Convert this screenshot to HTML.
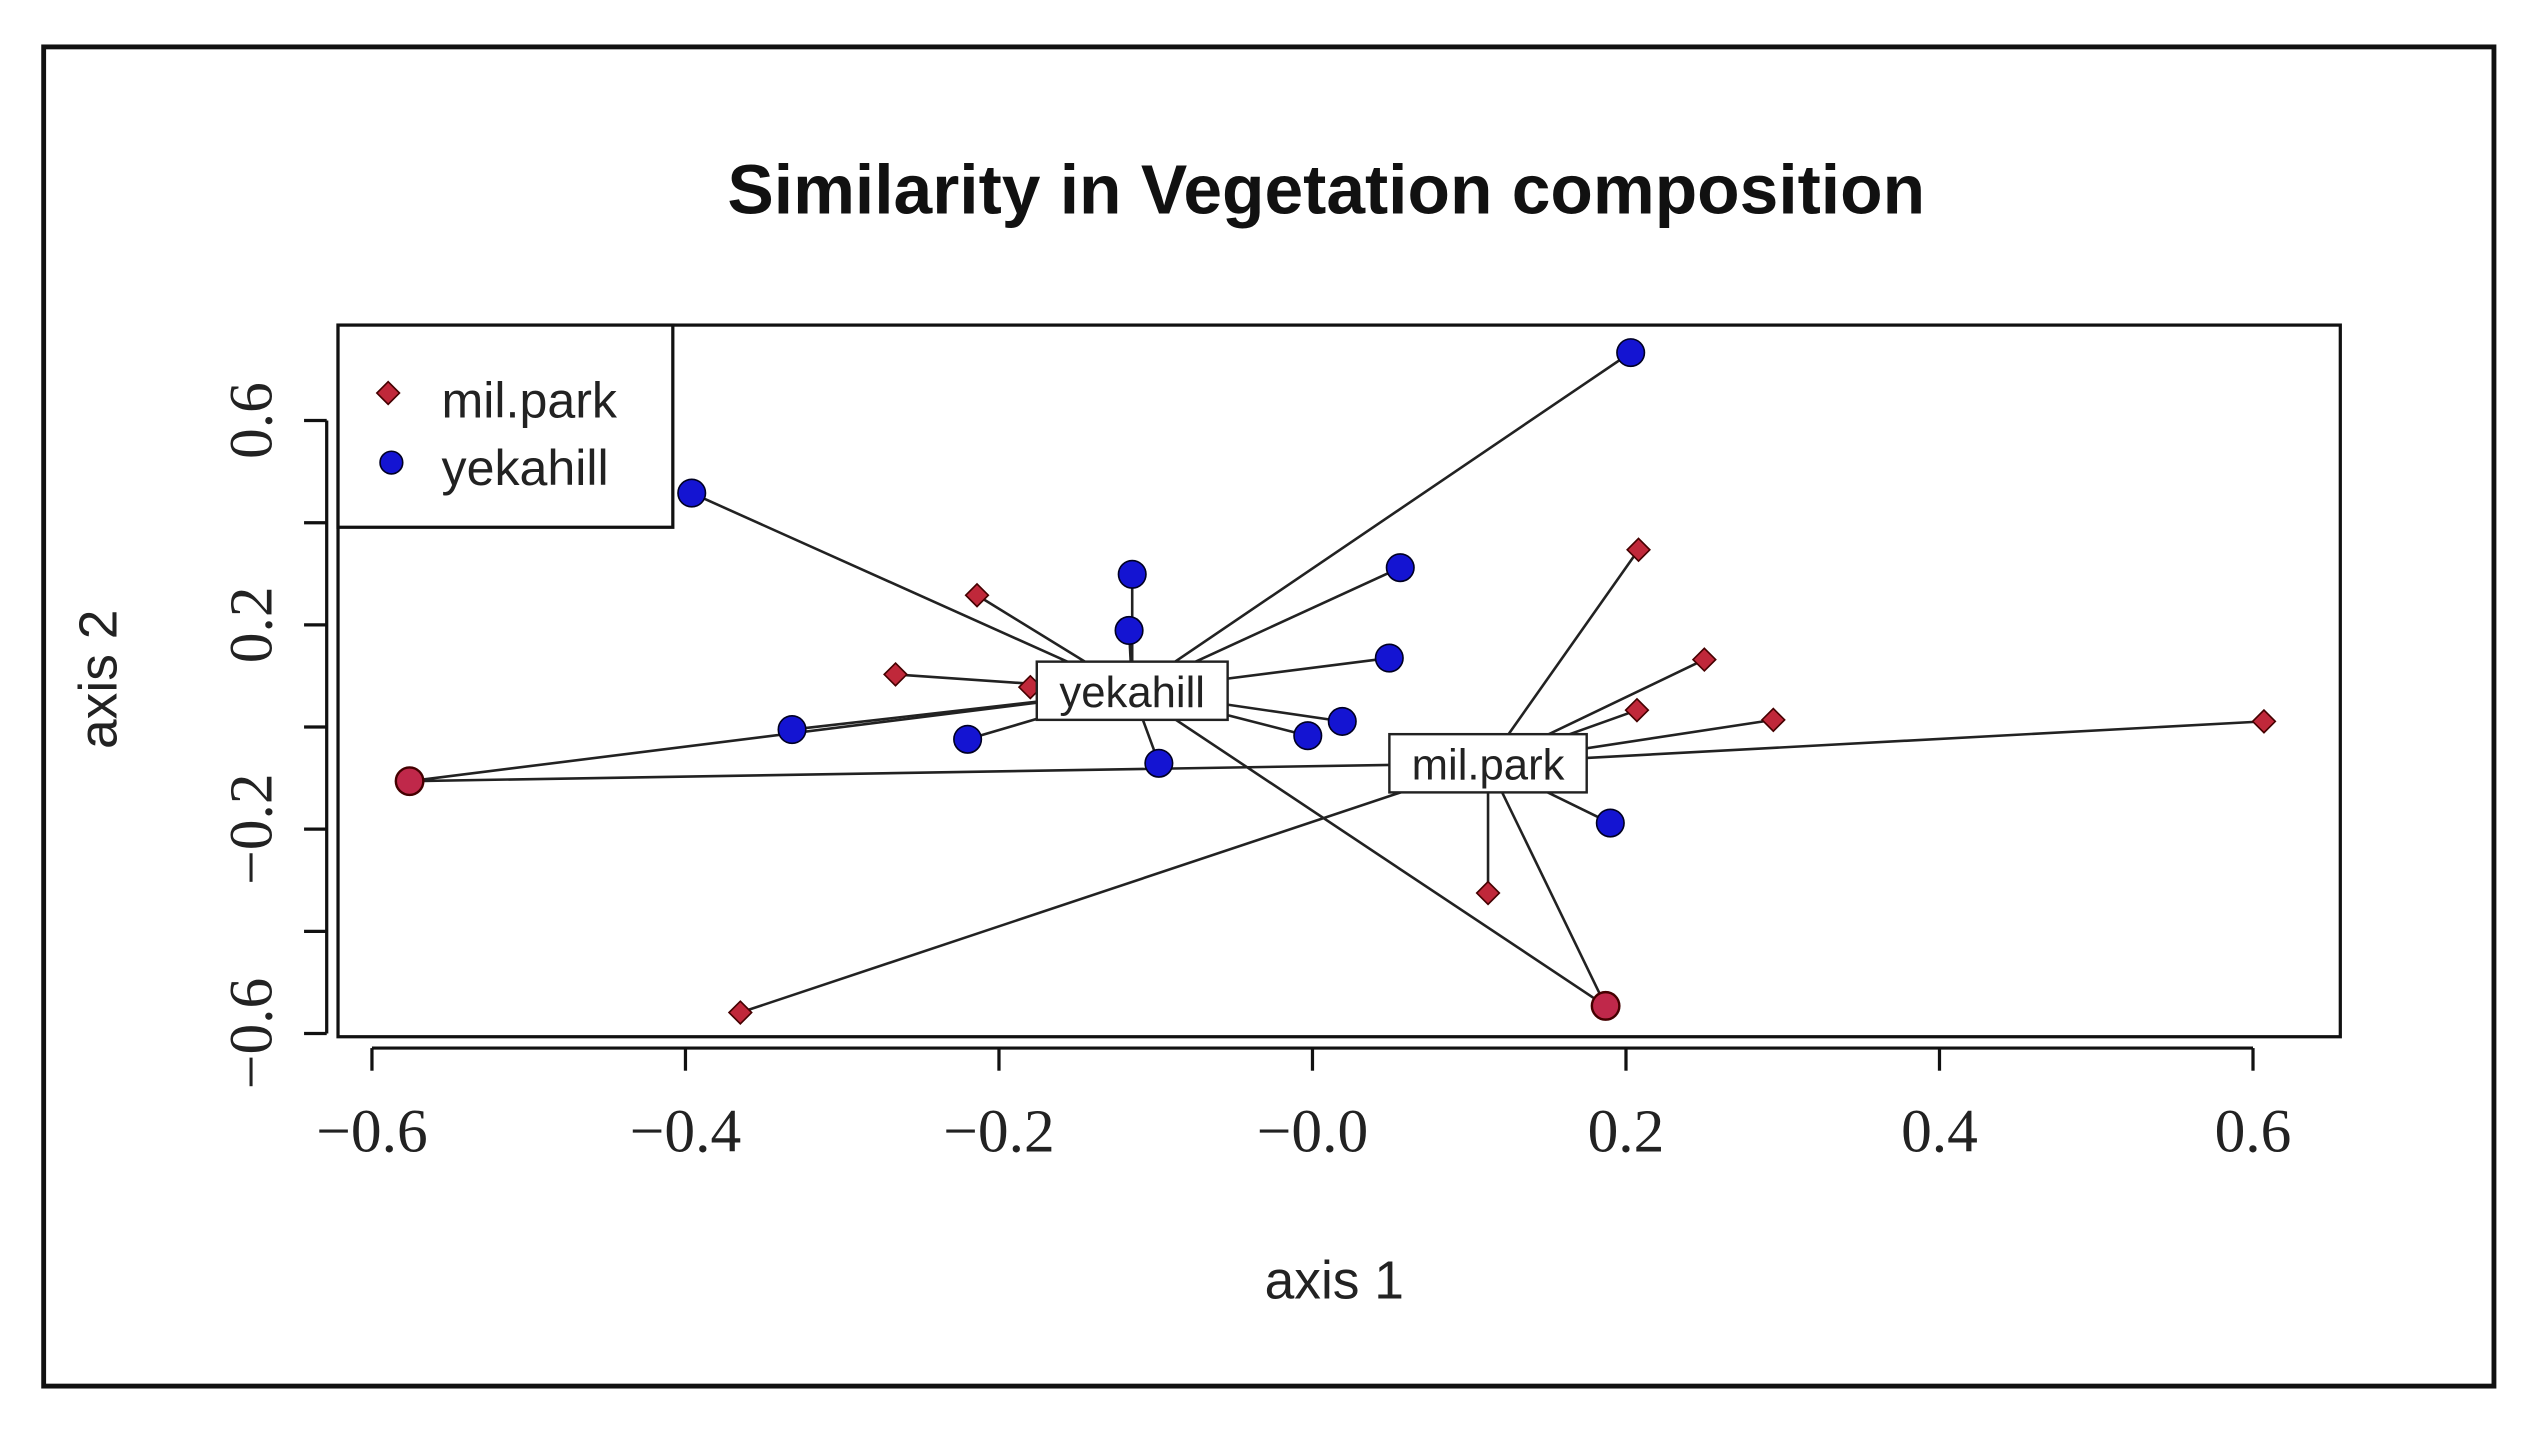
<!DOCTYPE html>
<html><head><meta charset="utf-8"><style>
html,body{margin:0;padding:0;background:#fff;}
svg{display:block;}
</style></head><body>
<svg id="chart" width="2536" height="1433" viewBox="0 0 1568 886" preserveAspectRatio="none" xmlns="http://www.w3.org/2000/svg">
<rect x="27" y="29" width="1515" height="828" fill="#fff" stroke="#111" stroke-width="3"/>
<text x="820" y="132" text-anchor="middle" font-family="Liberation Sans, sans-serif" font-weight="bold" font-size="43" fill="#111">Similarity in Vegetation composition</text>
<g id="axes"></g>
<g id="lines"></g>
<g id="marks"></g>
<g id="labels"></g>
<rect x="209" y="201" width="1238" height="440" fill="none" stroke="#111" stroke-width="2"/>
<g>
<rect x="209" y="201" width="207" height="125" fill="#fff" stroke="#111" stroke-width="2"/>
<polygon points="240,236 247,243 240,250 233,243" fill="#c0283a" stroke="#400" stroke-width="1"/>
<text x="273" y="258" font-family="Liberation Sans, sans-serif" font-size="31" fill="#222">mil.park</text>
<circle cx="242" cy="286" r="7" fill="#1414d2" stroke="#002" stroke-width="1"/>
<text x="273" y="300" font-family="Liberation Sans, sans-serif" font-size="31" fill="#222">yekahill</text>
</g>
<text x="825" y="803" text-anchor="middle" font-family="Liberation Sans, sans-serif" font-size="33" fill="#222">axis 1</text>
<text transform="translate(72,420) rotate(-90)" text-anchor="middle" font-family="Liberation Sans, sans-serif" font-size="33" fill="#222">axis 2</text>
</svg>
<script>
const xTicks = [-0.6, -0.4, -0.2, 0.0, 0.2, 0.4, 0.6];
const xTickLabels = ["\u22120.6", "\u22120.4", "\u22120.2", "\u22120.0", "0.2", "0.4", "0.6"];
const yTicks = [-0.6, -0.4, -0.2, 0.0, 0.2, 0.4, 0.6];
const yTickLabels = ["\u22120.6", "", "\u22120.2", "", "0.2", "", "0.6"];
const centroidNames = ["yekahill", "mil.park"];
const centroidX = [-0.115, 0.112];
const centroidY = [0.071, -0.071];
const yekX = [0.203, -0.396, -0.115, 0.056, -0.117, 0.049, -0.332, -0.220, -0.098, -0.003, 0.019, 0.190];
const yekY = [0.733, 0.458, 0.299, 0.312, 0.189, 0.135, -0.005, -0.024, -0.071, -0.017, 0.011, -0.188];
const yekLink = [0, 0, 0, 0, 0, 0, 0, 0, 0, 0, 0, 1];
const milX = [-0.214, -0.266, -0.180, 0.208, 0.250, 0.207, 0.294, 0.607, 0.112, -0.365];
const milY = [0.258, 0.103, 0.078, 0.347, 0.132, 0.033, 0.014, 0.011, -0.325, -0.559];
const milLink = [0, 0, 0, 1, 1, 1, 1, 1, 1, 1];
const sharedX = [-0.576, 0.187];
const sharedY = [-0.106, -0.546];

const NS = "http://www.w3.org/2000/svg";
function sx(v){ return 811.5 + v * 969.2; }
function sy(v){ return 449.5 - v * 315.8; }
function mk(tag, attrs, parent){
  const e = document.createElementNS(NS, tag);
  for (const k in attrs) e.setAttribute(k, attrs[k]);
  parent.appendChild(e);
  return e;
}
const axes = document.getElementById('axes');
const lines = document.getElementById('lines');
const marks = document.getElementById('marks');
const labels = document.getElementById('labels');
mk('line', {x1: sx(-0.6), y1: 648, x2: sx(0.6), y2: 648, stroke: '#111', 'stroke-width': 2}, axes);
xTicks.forEach((t, i) => {
  const l = mk('line', {x1: sx(t), y1: 648, x2: sx(t), y2: 662, stroke: '#111', 'stroke-width': 2}, axes);
  
  
  const tx = mk('text', {x: sx(t), y: 712, 'text-anchor': 'middle', 'font-family': 'Liberation Serif, serif', 'font-size': 38, fill: '#222'}, axes);
  tx.textContent = xTickLabels[i];
  
  
});
mk('line', {x1: 202, y1: sy(0.6), x2: 202, y2: sy(-0.6), stroke: '#111', 'stroke-width': 2}, axes);
yTicks.forEach((t, i) => {
  const l = mk('line', {x1: 188, y1: sy(t), x2: 202, y2: sy(t), stroke: '#111', 'stroke-width': 2}, axes);
  
  
  if (yTickLabels[i]) {
    const tx = mk('text', {transform: 'translate(168,' + sy(t) + ') rotate(-90)', 'text-anchor': 'middle', 'font-family': 'Liberation Serif, serif', 'font-size': 38, fill: '#222'}, axes);
    tx.textContent = yTickLabels[i];
    
    
  }
});
function spoke(x, y, c){
  const l = mk('line', {x1: sx(x), y1: sy(y), x2: sx(centroidX[c]), y2: sy(centroidY[c]), stroke: '#222', 'stroke-width': 1.6}, lines);
  
  
}
yekX.forEach((x, i) => spoke(x, yekY[i], yekLink[i]));
milX.forEach((x, i) => spoke(x, milY[i], milLink[i]));
sharedX.forEach((x, i) => { spoke(x, sharedY[i], 0); spoke(x, sharedY[i], 1); });
milX.forEach((x, i) => {
  const cx = sx(x), cy = sy(milY[i]);
  const p = mk('polygon', {points: `${cx},${cy-7} ${cx+7},${cy} ${cx},${cy+7} ${cx-7},${cy}`, fill: '#c0283a', stroke: '#400', 'stroke-width': 1}, marks);
  
  
});
yekX.forEach((x, i) => {
  const c = mk('circle', {cx: sx(x), cy: sy(yekY[i]), r: 8.5, fill: '#1414d2', stroke: '#002', 'stroke-width': 1}, marks);
  
  
});
sharedX.forEach((x, i) => {
  const c = mk('circle', {cx: sx(x), cy: sy(sharedY[i]), r: 8.5, fill: '#c0284a', stroke: '#400', 'stroke-width': 1.5}, marks);
  
  
});
centroidNames.forEach((n, i) => {
  const cx = sx(centroidX[i]), cy = sy(centroidY[i]);
  const w = n === 'yekahill' ? 118 : 122;
  const r = mk('rect', {x: cx - w/2, y: cy - 18, width: w, height: 36, fill: '#fff', stroke: '#222', 'stroke-width': 1.5}, labels);
  
  
  const t = mk('text', {x: cx, y: cy + 10, 'text-anchor': 'middle', 'font-family': 'Liberation Sans, sans-serif', 'font-size': 27, fill: '#222'}, labels);
  t.textContent = n;
  
  
});
</script>
</body></html>
